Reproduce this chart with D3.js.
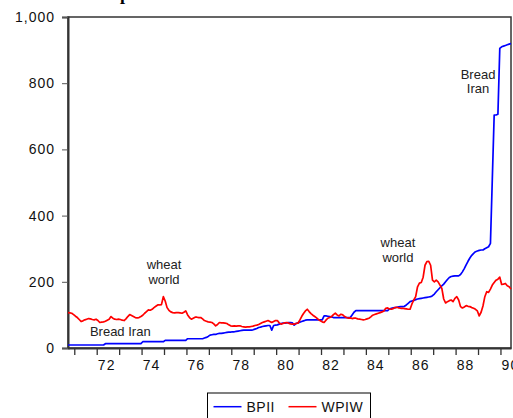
<!DOCTYPE html>
<html>
<head>
<meta charset="utf-8">
<script src="https://cdn.jsdelivr.net/npm/d3@7"></script>
<style>
body { margin: 0; background: #fff; }
svg { display: block; font-family: "Liberation Sans", Arial, sans-serif; }
</style>
</head>
<body>
<div id="chart-area"></div>
<script>
// monthly series, first observation at about 1970.72
var firstObs = 1970.72;
var bpii = [
	9,9,9,9,9,9,9,9,9,9,9,9,
	9,9,9,9,9,9,9,9,13,13,13,13,
	13,13,13,13,13,13,13,13,13,13,13,13,
	13,13,13,13,19,19,19,19,19,19,19,19,
	19,19,19,19,23,23,23,23,23,23,23,23,
	23,23,23,23,28,28,28,28,28,28,28,28,
	28,30,32,35,39,40,41,41,43,44,44,45,
	46,47,48,48,49,49,50,51,52,53,54,54,
	54,54,54,55,57,59,62,63,65,66,67,68,
	68,54,68,69,70,72,74,75,75,76,77,77,
	76,69,74,76,78,80,82,84,85,85,85,85,
	85,85,85,85,85,97,97,96,95,94,92,92,
	92,92,92,92,92,92,92,92,100,108,113,113,
	113,113,113,113,113,113,113,113,113,113,113,113,
	113,113,113,113,118,120,121,122,123,124,125,125,
	126,130,135,140,142,144,146,148,149,150,151,152,
	153,154,155,158,163,170,176,182,188,193,200,207,
	213,216,217,218,218,218,222,230,240,251,262,272,
	280,286,291,293,295,296,296,300,303,306,316,510,
	704,704,706,905,910,912,914,916,918,920
];
var wpiw = [
	107,106,105,101,96,92,86,80,82,85,87,89,
	88,86,85,87,83,77,78,79,81,84,87,95,
	90,87,86,87,86,84,83,88,95,101,98,95,
	92,91,92,95,99,105,110,115,114,117,122,126,
	130,130,131,155,142,122,114,109,107,106,107,107,
	106,105,108,112,100,92,87,90,93,93,92,92,
	88,83,81,79,78,77,73,67,71,77,76,76,
	75,74,70,67,66,67,66,67,67,65,64,63,
	64,64,65,66,68,69,71,74,77,79,81,83,
	80,77,80,83,83,76,72,74,76,77,75,73,
	72,72,74,75,84,95,104,112,117,110,104,99,
	95,91,86,82,79,77,84,90,92,95,101,105,
	100,97,102,100,95,92,90,91,89,90,90,88,
	87,86,85,86,88,90,94,99,101,103,105,107,
	109,112,120,121,118,117,119,122,123,121,120,120,
	119,118,117,117,133,145,155,185,196,198,214,250,
	261,262,250,205,200,205,200,190,180,148,136,140,
	143,145,140,150,155,145,125,121,124,128,126,125,
	122,120,117,112,97,108,127,155,170,168,178,190,
	198,205,208,214,192,193,195,188,185,178
];
var seriesNames = ["BPII", "WPIW"];
var seriesColors = ["#0000ff", "#ff0000"];
var yTicks = [0, 200, 400, 600, 800, 1000];
var tickYears = d3.range(1971, 1991);
var labelYears = [1972, 1974, 1976, 1978, 1980, 1982, 1984, 1986, 1988, 1990];
var notes = [
	{ lines: ["wheat", "world"], year: 1975.0, value: 238 },
	{ lines: ["Bread Iran"], year: 1973.05, value: 36 },
	{ lines: ["wheat", "world"], year: 1985.43, value: 305 },
	{ lines: ["Bread", "Iran"], year: 1989.0, value: 813 }
];

var W = 513, H = 418;
var margin = { left: 68, top: 17, right: 2, bottom: 70 };
var width = W - margin.left - margin.right;
var height = H - margin.top - margin.bottom;

var svg = d3.select("#chart-area").append("svg")
	.attr("width", W)
	.attr("height", H);

// cut-off title at the very top
svg.append("text")
	.attr("x", 120)
	.attr("y", 0)
	.attr("font-family", "'Liberation Serif', 'Times New Roman', serif")
	.attr("font-weight", "bold")
	.attr("font-size", "18px")
	.attr("fill", "#000")
	.text("p");

var g = svg.append("g")
	.attr("transform", "translate(" + margin.left + "," + margin.top + ")");

var lastObs = firstObs + (bpii.length - 1) / 12;
var x = d3.scaleLinear().domain([firstObs, lastObs]).range([0, width]);
var y = d3.scaleLinear().domain([0, 1000]).range([height, 0]);

// frame
g.append("rect")
	.attr("width", width)
	.attr("height", height)
	.attr("fill", "none")
	.attr("stroke", "#333")
	.attr("stroke-width", 1.5);

// Y axis
var yAxis = g.append("g")
	.call(d3.axisLeft(y).tickValues(yTicks).tickSize(6).tickPadding(7).tickFormat(d3.format(",")));
yAxis.select(".domain").attr("stroke", "#333").attr("stroke-width", 2);
yAxis.selectAll(".tick line").attr("stroke", "#555");
yAxis.selectAll("text")
	.attr("font-size", "14px")
	.attr("letter-spacing", "1px")
	.attr("fill", "#111");

// X axis: yearly ticks
var xAxis = g.append("g")
	.attr("transform", "translate(0," + height + ")")
	.call(d3.axisBottom(x).tickValues(tickYears).tickSize(7).tickSizeOuter(0).tickFormat(""));
xAxis.select(".domain").attr("stroke", "#333").attr("stroke-width", 2);
xAxis.selectAll(".tick line").attr("stroke", "#333").attr("stroke-width", 1.3);

// X labels sit in the middle of the year
var xLab = g.append("g")
	.attr("transform", "translate(0," + height + ")")
	.call(d3.axisBottom(x)
		.tickValues(labelYears.map(d => d + 0.42))
		.tickSize(0)
		.tickPadding(12)
		.tickFormat(d => String(Math.round(d - 0.42) % 100)));
xLab.select(".domain").remove();
xLab.selectAll("text")
	.attr("font-size", "14px")
	.attr("letter-spacing", "1px")
	.attr("fill", "#111");

// lines
var line = d3.line()
	.x((d, i) => x(firstObs + i / 12))
	.y(d => y(d));

[bpii, wpiw].forEach((s, k) => {
	g.append("path")
		.datum(s)
		.attr("fill", "none")
		.attr("stroke", seriesColors[k])
		.attr("stroke-width", 1.7)
		.attr("stroke-linejoin", "round")
		.attr("d", line);
});

// annotations
notes.forEach(n => {
	var t = g.append("text")
		.attr("text-anchor", "middle")
		.attr("font-size", "13px")
		.attr("fill", "#222");
	n.lines.forEach((s, i) => {
		t.append("tspan")
			.attr("x", x(n.year))
			.attr("y", y(n.value) + i * 14.5)
			.text(s);
	});
});

// legend
var legend = svg.append("g")
	.attr("transform", "translate(207.5,393)");
legend.append("rect")
	.attr("width", 163)
	.attr("height", 30)
	.attr("fill", "#fff")
	.attr("stroke", "#000")
	.attr("stroke-width", 1);

seriesNames.forEach((name, i) => {
	var row = legend.append("g")
		.attr("transform", "translate(" + (6 + i * 75) + ",0)");
	row.append("line")
		.attr("x1", 0)
		.attr("x2", 28)
		.attr("y1", 13.7)
		.attr("y2", 13.7)
		.attr("stroke", seriesColors[i])
		.attr("stroke-width", 1.5);
	row.append("text")
		.attr("x", 33)
		.attr("y", 18.5)
		.attr("font-size", "14px")
		.attr("letter-spacing", "0.5px")
		.attr("fill", "#111")
		.text(name);
});
</script>
</body>
</html>
